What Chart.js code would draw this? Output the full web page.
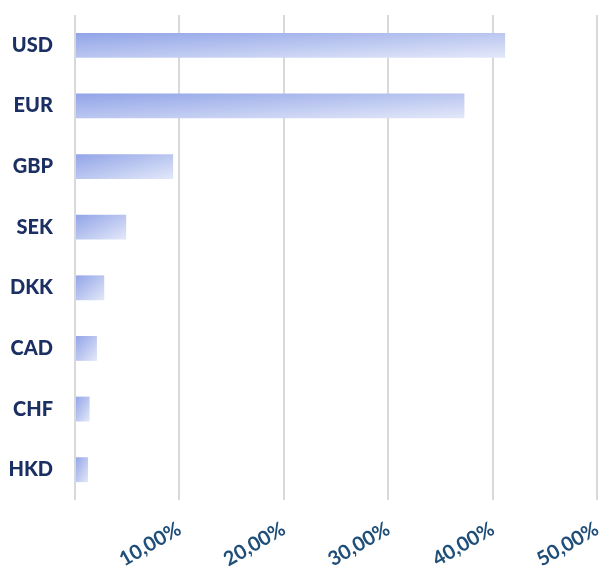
<!DOCTYPE html>
<html>
<head>
<meta charset="utf-8">
<script src="https://cdn.jsdelivr.net/npm/chart.js@4"></script>
<style>
  html, body { margin: 0; padding: 0; background: #ffffff; }
  #wrap { width: 601px; height: 572px; }
</style>
</head>
<body>
<div id="wrap"><canvas id="c" width="601" height="572"></canvas></div>
<script>
// Currency breakdown (share of total, in percent)
const currencies = ['USD', 'EUR', 'GBP', 'SEK', 'DKK', 'CAD', 'CHF', 'HKD'];
const shares = [41.2, 37.3, 9.4, 4.9, 2.8, 2.1, 1.4, 1.25];
const tickValues = [0, 10, 20, 30, 40, 50];

const formatPct = v => v.toFixed(2).replace('.', ',') + '%';

// Diagonal gradient scaled to each bar's own box: top-left dark, bottom-right pale
function barGradient(ctx) {
  const chart = ctx.chart;
  const sx = chart.scales.x, sy = chart.scales.y;
  if (!chart.chartArea || !sx || !sy || ctx.raw == null) return '#a9b8ec';
  const x0 = sx.getPixelForValue(0);
  const x1 = sx.getPixelForValue(ctx.raw);
  const band = sy.getPixelForValue(1) - sy.getPixelForValue(0);
  const h = Math.abs(band) * 0.41;
  const yc = sy.getPixelForValue(ctx.dataIndex);
  const top = yc - h / 2;
  const w = Math.max(1, x1 - x0);
  const S = 1 / (w * w) + 1 / (h * h);
  const k = 2 / S;
  const g = chart.ctx.createLinearGradient(x0, top, x0 + k / w, top + k / h);
  g.addColorStop(0, '#91a4e8');
  g.addColorStop(0.5, '#bac6f0');
  g.addColorStop(1, '#e3e8f9');
  return g;
}

new Chart(document.getElementById('c'), {
  type: 'bar',
  data: {
    labels: currencies,
    datasets: [{
      data: shares,
      backgroundColor: barGradient,
      borderWidth: 0,
      barPercentage: 0.41,
      categoryPercentage: 1.0
    }]
  },
  options: {
    indexAxis: 'y',
    responsive: false,
    animation: false,
    layout: { padding: { top: 15, right: 4, left: 0, bottom: 0 } },
    plugins: { legend: { display: false }, tooltip: { enabled: false } },
    scales: {
      x: {
        min: 0,
        max: 50,
        afterBuildTicks: axis => { axis.ticks = tickValues.map(v => ({ value: v })); },
        afterFit: s => { s.height = 72; s.paddingLeft = 0; s.paddingRight = 0; },
        grid: { color: '#d9d9d9', lineWidth: 2, drawTicks: false },
        border: { display: false },
        ticks: {
          minRotation: 30,
          maxRotation: 30,
          padding: 17,
          color: '#1f4e79',
          font: { family: 'Lato', size: 20, weight: 'bold' },
          callback: v => (v === 0 ? '' : formatPct(v))
        }
      },
      y: {
        afterFit: s => { s.width = 75; s.paddingTop = 0; s.paddingBottom = 0; },
        grid: { display: false, drawTicks: false },
        border: { display: false },
        ticks: {
          padding: 22,
          color: '#1b2f63',
          font: { family: 'Lato', size: 20, weight: '900' }
        }
      }
    }
  }
});
</script>
</body>
</html>
